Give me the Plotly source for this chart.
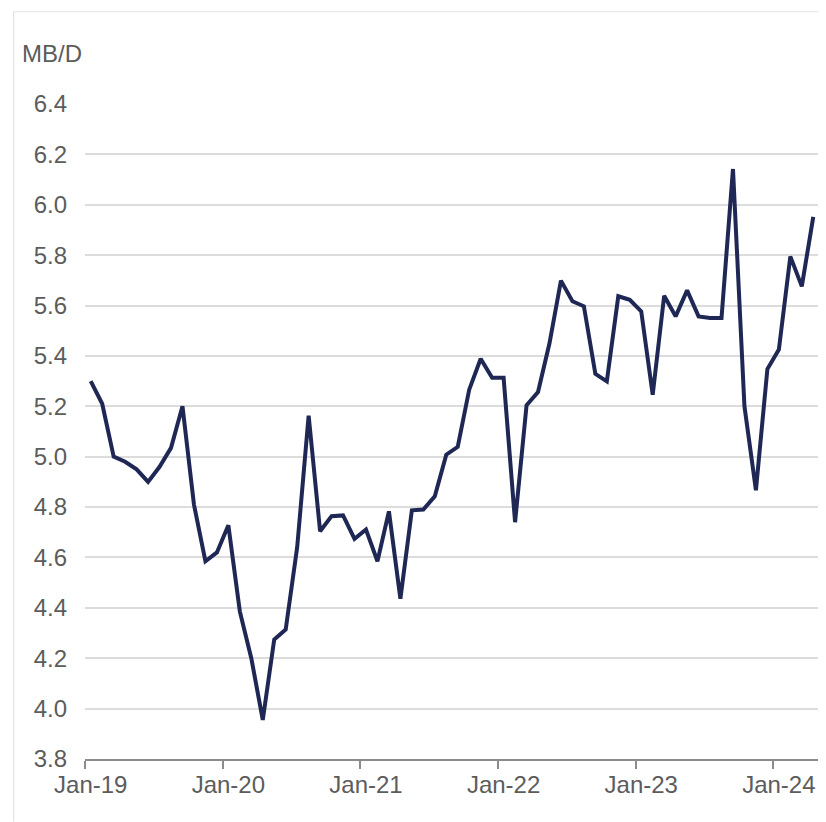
import plotly.graph_objects as go

# Monthly values, Jan-2019 .. Apr-2024 (MB/D)
values = [
    5.30, 5.21, 5.00, 4.98, 4.95, 4.90, 4.96, 5.035, 5.20, 4.81, 4.585, 4.62,   # 2019
    4.728, 4.386, 4.20, 3.955, 4.274, 4.314, 4.64, 5.163, 4.704, 4.764, 4.767, 4.674,  # 2020
    4.711, 4.585, 4.783, 4.436, 4.787, 4.79, 4.843, 5.008, 5.039, 5.266, 5.389, 5.313,  # 2021
    5.313, 4.74, 5.204, 5.257, 5.45, 5.699, 5.617, 5.597, 5.329, 5.299, 5.637, 5.623,  # 2022
    5.577, 5.246, 5.639, 5.557, 5.66, 5.557, 5.551, 5.551, 6.142, 5.20, 4.867, 5.348,  # 2023
    5.425, 5.795, 5.676, 5.952,                                                        # 2024
]
month_index = list(range(len(values)))
tick_labels = ["Jan-19", "Jan-20", "Jan-21", "Jan-22", "Jan-23", "Jan-24"]
tick_positions = [12 * k for k in range(len(tick_labels))]
boundary_ticks = [p - 0.5 for p in tick_positions]
y_ticks = [round(3.8 + 0.2 * k, 1) for k in range(14)]

FONT = "Liberation Sans"
GREY = "#5c5c5c"
FS = 24

# plot area in page pixels: x 85..819, y 104..759.5 ; page body has 8px margin
W, H = 818, 814
fig = go.Figure()
fig.add_trace(go.Scatter(
    x=month_index, y=values, mode="lines",
    line=dict(color="#1f2855", width=4),
    hoverinfo="skip", showlegend=False,
))

PW, PH = 734, 655.5
fig.update_layout(
    width=W, height=H,
    margin=dict(l=77, r=7, t=96, b=62.5),
    paper_bgcolor="white", plot_bgcolor="white",
    font=dict(family=FONT, size=FS, color=GREY),
    xaxis=dict(
        range=[-0.5, len(values) - 0.5],
        tickmode="array", tickvals=tick_positions, ticktext=tick_labels,
        ticks="", showgrid=False, zeroline=False,
        showline=True, linecolor="#8c8c8c", linewidth=1.5,
        tickfont=dict(family=FONT, size=FS, color=GREY),
        minor=dict(tickmode="array", tickvals=boundary_ticks, ticks="outside",
                   ticklen=8, tickwidth=1.5, tickcolor="#8c8c8c", showgrid=False),
        ticklabelstandoff=3,
    ),
    yaxis=dict(
        range=[3.8, 6.4],
        tickmode="array", tickvals=y_ticks, tickformat=".1f",
        showgrid=True, gridcolor="#dcdcdc", gridwidth=1.5,
        zeroline=False, showline=False, ticks="",
        tickfont=dict(family=FONT, size=FS, color=GREY),
        ticklabelstandoff=17,
    ),
    annotations=[dict(
        text="MB/D", xref="paper", yref="paper",
        x=(20 - 85) / PW, y=(759.5 - 53.5) / PH,
        xanchor="left", yanchor="middle", showarrow=False,
        font=dict(family=FONT, size=FS, color=GREY),
    )],
    shapes=[
        dict(type="line", xref="paper", yref="paper",
             x0=(13.7 - 85) / PW, x1=(13.7 - 85) / PW,
             y0=(759.5 - 822) / PH, y1=(759.5 - 11.7) / PH,
             line=dict(color="#e3e3e3", width=1.2)),
        dict(type="line", xref="paper", yref="paper",
             x0=(13.7 - 85) / PW, x1=(826 - 85) / PW,
             y0=(759.5 - 11.7) / PH, y1=(759.5 - 11.7) / PH,
             line=dict(color="#e3e3e3", width=1.2)),
    ],
)

fig.write_html("out.html")
